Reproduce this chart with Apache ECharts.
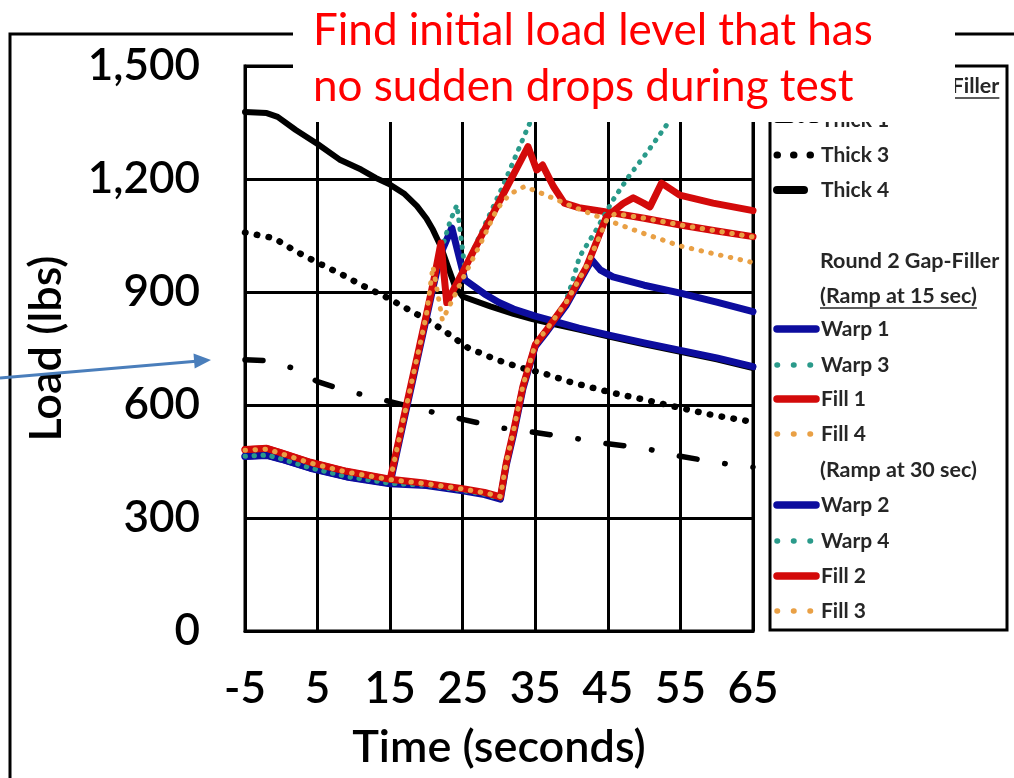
<!DOCTYPE html>
<html><head><meta charset="utf-8">
<script src="https://cdn.jsdelivr.net/npm/echarts@6/dist/echarts.min.js"></script>
<style>html,body{margin:0;padding:0;background:#fff}#c{width:1014px;height:778px}</style>
</head><body><div id="c"></div><script>
// ---------- data (time in s, load in lbs) ----------
const timeTicks = [-5, 5, 15, 25, 35, 45, 55, 65];
const loadTicks = [0, 300, 600, 900, 1200, 1500];

const thick1 = [[-5,720],[-2,718],[1.6,698],[5,662],[8,643],[10,633],[15,609],[20,585],[25,562],[30,540],[35,527],[40,513],[45,497],[50,485],[55,464],[60,447],[65,435]];
const thick3 = [[-5,1058],[-1,1043],[2,1008],[5,978],[8.5,945],[11.5,914],[14.7,884],[18,848],[20.5,822],[22.8,792],[25.7,752],[29.7,720],[33,699],[36,685],[40,660],[45.7,632],[50.3,613],[55,592],[59.5,573],[65,555]];
const thick4 = [[-5,1378],[-2,1375],[-0.5,1365],[2,1330],[5,1293],[8,1252],[11,1225],[13,1203],[15,1185],[17,1160],[18.7,1128],[20,1095],[20.9,1065],[22,1020],[23,965],[24,912],[25,888],[28.8,862],[32,842],[34.6,828],[38,813],[41,800],[45,782],[50,761],[55,741],[60,721],[65,698]];

// Round 2, ramp at 15 s
const warp1 = [[-5,464],[-2,467],[0,457],[4,433],[9,410],[15,392],[16,481],[17,569],[18,656],[19,744],[20,831],[21,919],[22,1003],[23.5,1070],[25.3,932],[28,895],[30,872],[32,855],[35,836],[38.4,818],[41,804],[45,786],[50,765],[55,745],[60,725],[65,702]];
const warp3 = [[-5,465],[-2,468],[0,458],[4,434],[9,411],[15,393],[16,482],[17,570],[18,658],[19,746],[20,834],[21,922],[22,1008],[23.3,1090],[24.2,1131],[25.3,962],[27,1035],[30.5,1180],[34,1338],[36,1420],[38,1475],[42,1480],[50,1470],[65,1460]];
const fill1 = [[-5,481],[-2,484],[0,472],[4,447],[9,423],[15,402],[16,490],[17,578],[18,665],[19,752],[20,840],[21,930],[22,1030],[22.8,872],[25,953],[28,1065],[31,1175],[34,1286],[35.2,1224],[36,1237],[37.5,1180],[39,1136],[41,1124],[45,1112],[50,1096],[55,1078],[60,1062],[65,1047]];
const fill4 = [[-5,480],[-2,483],[0,471],[4,446],[9,422],[15,401],[16,489],[17,577],[18,664],[19,751],[20,840],[20.9,968],[22.2,825],[25,935],[27.5,1030],[29.7,1120],[31.5,1160],[33.5,1180],[35.5,1165],[40,1128],[45,1090],[50,1055],[55,1022],[60,1000],[65,978]];

// Round 2, ramp at 30 s
const warp2 = [[-5,463],[-2,466],[0,456],[4,432],[9,409],[15,391],[20,386],[25,372],[28,362],[30.2,350],[31,440],[32,522],[33.3,644],[35,756],[36.6,795],[39.3,866],[42.1,962],[42.8,985],[44,958],[45.7,940],[50,918],[55,897],[60,873],[65,848]];
const warp4 = [[-5,464],[-2,467],[0,457],[4,433],[9,410],[15,392],[20,387],[25,373],[28,363],[30.2,351],[31,441],[32,524],[33.3,646],[35,758],[36.6,797],[39,866],[40,920],[41.1,994],[43.4,1065],[45.7,1144],[48,1210],[50.3,1268],[52.6,1330],[55,1395],[57.5,1460],[60,1478],[65,1470]];
const fill2 = [[-5,482],[-2,485],[0,473],[4,448],[9,424],[15,403],[20,392],[25,378],[28,368],[30.2,356],[31,446],[32,530],[33.3,650],[35,760],[36.6,800],[39.3,872],[42.1,968],[44.8,1100],[47.1,1135],[48.5,1150],[49.9,1136],[50.8,1126],[52.4,1189],[54.9,1157],[59.5,1136],[65,1116]];
const fill3 = [[-5,480],[-2,483],[0,471],[4,446],[9,422],[15,402],[20,391],[25,377],[28,367],[30.2,357],[31,448],[32,532],[33.3,652],[35,762],[36.6,802],[39.3,874],[42.1,970],[44.8,1090],[46,1108],[50,1096],[55,1078],[60,1062],[65,1046]];

const seriesNames = ['Thick 1','Thick 3','Thick 4','Warp 1','Warp 3','Fill 1','Fill 4','Warp 2','Warp 4','Fill 2','Fill 3'];
const seriesData = [thick1, thick3, thick4, warp1, warp3, fill1, fill4, warp2, warp4, fill2, fill3];

// ---------- styles ----------
const BLUE = '#0d0d9e', TEAL = '#2a9a8a', RED = '#d30a0a', ORANGE = '#e9a045';
const styles = {
  'Thick 1': {color:'#000', width:5.5, dash:[18,28,0.5,28], cap:'round', lgDash:[14,10,0.5,10]},
  'Thick 3': {color:'#000', width:6.5, dash:[0.5,11.5], cap:'round', lgDash:[0.5,16]},
  'Thick 4': {color:'#000', width:6, dash:null, cap:'round', lgWidth:8, lgLen:27},
  'Warp 1': {color:BLUE, width:7, dash:null, cap:'round'},
  'Warp 3': {color:TEAL, width:5, dash:[0.5,8.5], cap:'round', lgDash:[0.5,16]},
  'Fill 1': {color:RED, width:7, dash:null, cap:'round'},
  'Fill 4': {color:ORANGE, width:5, dash:[0.5,9.5], cap:'round', lgDash:[0.5,16]},
  'Warp 2': {color:BLUE, width:7, dash:null, cap:'round'},
  'Warp 4': {color:TEAL, width:5, dash:[0.5,8.5], cap:'round', lgDash:[0.5,16]},
  'Fill 2': {color:RED, width:7, dash:null, cap:'round'},
  'Fill 3': {color:ORANGE, width:5, dash:[0.5,9.5], cap:'round', lgDash:[0.5,16]}
};

const series = seriesNames.map((n, i) => ({
  name: n, type: 'line', data: seriesData[i], showSymbol: false, symbol: 'none',
  smooth: false, clip: true, z: 3 + i, animation: false,
  lineStyle: {color: styles[n].color, width: styles[n].width,
    type: styles[n].dash || 'solid', cap: styles[n].cap, join: 'round'}
}));

// ---------- legend (drawn as graphics) ----------
const FONT = 'Lato';
const lgRows = [
  {text:'Round 1 Gap-Filler', y:86, underline:true},
  {name:'Thick 1', y:120},
  {name:'Thick 3', y:155},
  {name:'Thick 4', y:190},
  {text:'Round 2 Gap-Filler', y:261},
  {text:'(Ramp at 15 sec)', y:296, underline:true},
  {name:'Warp 1', y:329},{name:'Warp 3', y:365},{name:'Fill 1', y:399},{name:'Fill 4', y:434},
  {text:'(Ramp at 30 sec)', y:470},
  {name:'Warp 2', y:505},{name:'Warp 4', y:541},{name:'Fill 2', y:576},{name:'Fill 3', y:611}
];
const mctx = document.createElement('canvas').getContext('2d');
const lgFont = 'bold 21px ' + FONT;
const hdFont = 'bold 21.5px ' + FONT;
const graphics = [];
graphics.push({type:'rect', shape:{x:770, y:66, width:237, height:564}, style:{fill:'#fff', stroke:'#000', lineWidth:3}, z:50});
lgRows.forEach(r => {
  const label = r.name || r.text;
  const f = r.name ? lgFont : hdFont;
  graphics.push({type:'text', x:r.name ? 821 : 820, y:r.y, z:52, style:{text:label, font:f, fill:'#262626', verticalAlign:'middle', align:'left'}});
  if (r.underline) {
    mctx.font = f;
    const w = mctx.measureText(label).width;
    graphics.push({type:'line', z:52, shape:{x1:820, y1:r.y+12, x2:820+w, y2:r.y+12}, style:{stroke:'#262626', lineWidth:1.5}});
  }
  if (r.name) {
    const s = styles[r.name];
    graphics.push({type:'line', z:52, shape:{x1:777, y1:r.y, x2:777 + (s.lgLen || 39), y2:r.y},
      style:{stroke:s.color, lineWidth:s.lgWidth || s.width + 0.5, lineDash:s.lgDash || null, lineCap:'round'}});
  }
});
// outer frame
graphics.push({type:'polyline', z:40, shape:{points:[[10,780],[10,34],[1016,34]]}, style:{stroke:'#000', lineWidth:3, fill:null}});
// annotation box
graphics.push({type:'rect', z:100, shape:{x:293, y:0, width:662, height:122}, style:{fill:'#fff'}});
graphics.push({type:'text', z:101, x:313, y:31, style:{text:'Find initial load level that has', font:'44px ' + FONT, fill:'#ff0000', verticalAlign:'middle'}});
graphics.push({type:'text', z:101, x:313, y:87, style:{text:'no sudden drops during test', font:'44px ' + FONT, fill:'#ff0000', verticalAlign:'middle'}});
// arrow
graphics.push({type:'line', z:101, shape:{x1:0, y1:378, x2:196, y2:361.3}, style:{stroke:'#4a7ebb', lineWidth:3}});
graphics.push({type:'polygon', z:101, shape:{points:[[211,360],[194.7,368.4],[193.5,353.4]]}, style:{fill:'#4a7ebb'}});

const AX_W = 600;
const chart = echarts.init(document.getElementById('c'), null, {renderer:'canvas'});
chart.setOption({
  animation: false,
  backgroundColor: '#fff',
  grid: {left:245, right:261, top:66, bottom:147, show:true, borderColor:'#000', borderWidth:3, backgroundColor:'transparent'},
  xAxis: {type:'value', min:timeTicks[0], max:timeTicks[timeTicks.length-1], interval:timeTicks[1]-timeTicks[0],
    axisLine:{show:true, onZero:false, lineStyle:{color:'#000', width:3}}, axisTick:{show:false},
    splitLine:{show:true, lineStyle:{color:'#000', width:3}},
    axisLabel:{color:'#000', fontSize:44, fontWeight:AX_W, fontFamily:FONT, margin:36},
    name:'Time (seconds)', nameLocation:'middle', nameGap:94,
    nameTextStyle:{color:'#000', fontSize:45, fontWeight:AX_W, fontFamily:FONT}},
  yAxis: {type:'value', min:loadTicks[0], max:loadTicks[loadTicks.length-1], interval:loadTicks[1]-loadTicks[0],
    axisLine:{show:true, onZero:false, lineStyle:{color:'#000', width:3}}, axisTick:{show:false},
    splitLine:{show:true, lineStyle:{color:'#000', width:3}},
    axisLabel:{color:'#000', fontSize:44, fontWeight:AX_W, fontFamily:FONT, margin:45, padding:[6,0,0,0],
      formatter: v => v.toLocaleString('en-US')},
    name:'Load (lbs)', nameLocation:'middle', nameGap:176,
    nameTextStyle:{color:'#000', fontSize:45, fontWeight:AX_W, fontFamily:FONT}},
  series: series,
  graphic: graphics
});
</script></body></html>
